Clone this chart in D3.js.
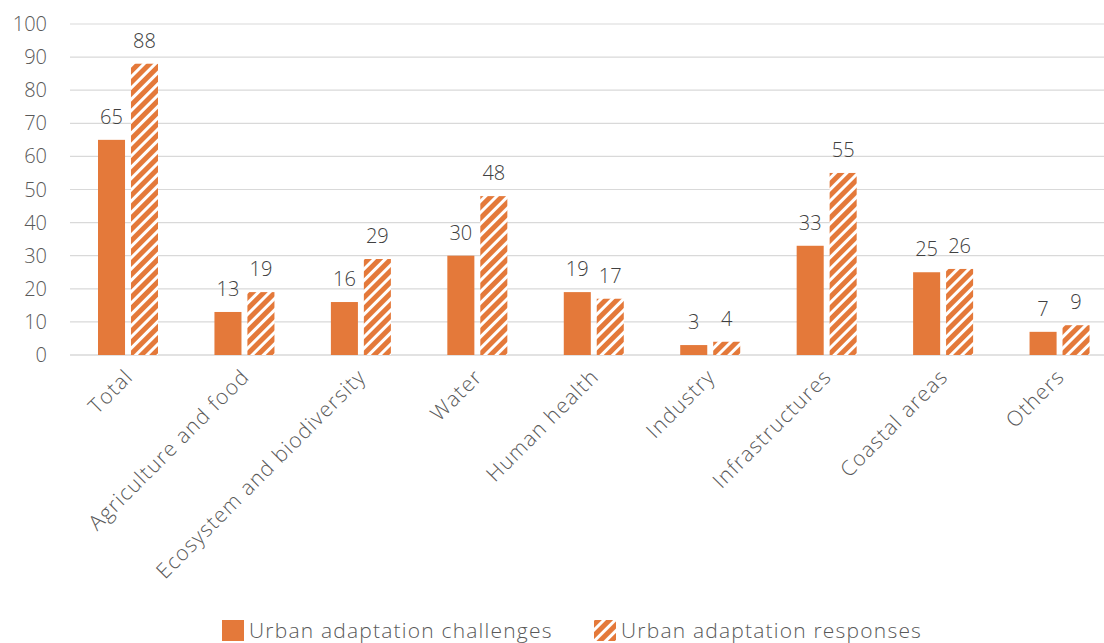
<!DOCTYPE html>
<html lang="en">
<head>
    <meta charset="UTF-8">
    <title>Urban adaptation</title>
    <script src="https://d3js.org/d3.v7.min.js"></script>
    <style>
        body { margin: 0; background: #fff; font-family: "Open Sans", Lato, sans-serif; }
        .tick-label { font-size: 20px; fill: #595959; font-weight: 300; }
        .cat-label { font-size: 21px; fill: #595959; font-weight: 300; letter-spacing: 1.2px; }
        .value-label { font-size: 20px; fill: #404040; text-anchor: middle; font-weight: 300; }
        .legend-label { font-size: 21px; fill: #595959; font-weight: 300; letter-spacing: 1.2px; }
    </style>
</head>
<body>
    <div id="chart"></div>
    <script>
        const categories = ["Total", "Agriculture and food", "Ecosystem and biodiversity", "Water",
            "Human health", "Industry", "Infrastructures", "Coastal areas", "Others"];
        const challenges = [65, 13, 16, 30, 19, 3, 33, 25, 7];
        const responses = [88, 19, 29, 48, 17, 4, 55, 26, 9];
        const seriesNames = ["Urban adaptation challenges", "Urban adaptation responses"];
        const yTicks = [0, 10, 20, 30, 40, 50, 60, 70, 80, 90, 100];

        const width = 1104, height = 643;
        const orange = "#E4793A";

        const svg = d3.select("#chart").append("svg")
            .attr("width", width)
            .attr("height", height);

        // striped fill for the responses series
        const defs = svg.append("defs");
        const pat = defs.append("pattern")
            .attr("id", "stripes")
            .attr("patternUnits", "userSpaceOnUse")
            .attr("width", 8)
            .attr("height", 8)
            .attr("patternTransform", "rotate(45)");
        pat.append("rect").attr("width", 8).attr("height", 8).attr("fill", orange);
        pat.append("rect").attr("x", 0).attr("width", 3).attr("height", 8).attr("fill", "#fff");

        const x0 = d3.scaleBand().domain(categories).range([70, 1118]);
        const x1 = d3.scaleBand().domain(seriesNames).range([28, 88]).paddingInner(0.18);
        const y = d3.scaleLinear().domain([0, 100]).range([355, 24]);

        // gridlines
        svg.append("g")
            .selectAll("line")
            .data(yTicks)
            .join("line")
            .attr("x1", 70)
            .attr("x2", width)
            .attr("y1", d => y(d))
            .attr("y2", d => y(d))
            .attr("stroke", "#d9d9d9")
            .attr("stroke-width", d => d === 0 ? 1.5 : 1.2);

        // y tick labels
        svg.append("g")
            .selectAll("text")
            .data(yTicks)
            .join("text")
            .attr("class", "tick-label")
            .attr("x", 47)
            .attr("y", d => y(d))
            .attr("dy", "0.35em")
            .attr("text-anchor", "end")
            .text(d => d);

        const rows = categories.map((c, i) => ({ cat: c, vals: [challenges[i], responses[i]] }));

        const groups = svg.append("g")
            .selectAll("g")
            .data(rows)
            .join("g")
            .attr("transform", d => `translate(${x0(d.cat)},0)`);

        groups.selectAll("rect")
            .data(d => d.vals.map((v, j) => ({ v, s: seriesNames[j], j })))
            .join("rect")
            .attr("x", d => x1(d.s))
            .attr("width", x1.bandwidth())
            .attr("y", d => y(d.v))
            .attr("height", d => y(0) - y(d.v))
            .attr("fill", d => d.j === 0 ? orange : "url(#stripes)");

        groups.selectAll("text")
            .data(d => d.vals.map((v, j) => ({ v, s: seriesNames[j] })))
            .join("text")
            .attr("class", "value-label")
            .attr("x", d => x1(d.s) + x1.bandwidth() / 2)
            .attr("y", d => y(d.v) - 16)
            .text(d => d.v);

        // category labels
        svg.append("g")
            .selectAll("text")
            .data(categories)
            .join("text")
            .attr("class", "cat-label")
            .attr("text-anchor", "end")
            .attr("transform", d => `translate(${x0(d) + x0.bandwidth() / 2 + 6},${378}) rotate(-45)`)
            .text(d => d);

        // legend
        const legend = svg.append("g");
        const legendItems = [
            { name: seriesNames[0], fill: orange, x: 222 },
            { name: seriesNames[1], fill: "url(#stripes)", x: 594 }
        ];
        legend.selectAll("rect")
            .data(legendItems)
            .join("rect")
            .attr("x", d => d.x)
            .attr("y", 620)
            .attr("width", 22)
            .attr("height", 21)
            .attr("fill", d => d.fill);
        legend.selectAll("text")
            .data(legendItems)
            .join("text")
            .attr("class", "legend-label")
            .attr("x", d => d.x + 27)
            .attr("y", 638)
            .text(d => d.name);
    </script>
</body>
</html>
